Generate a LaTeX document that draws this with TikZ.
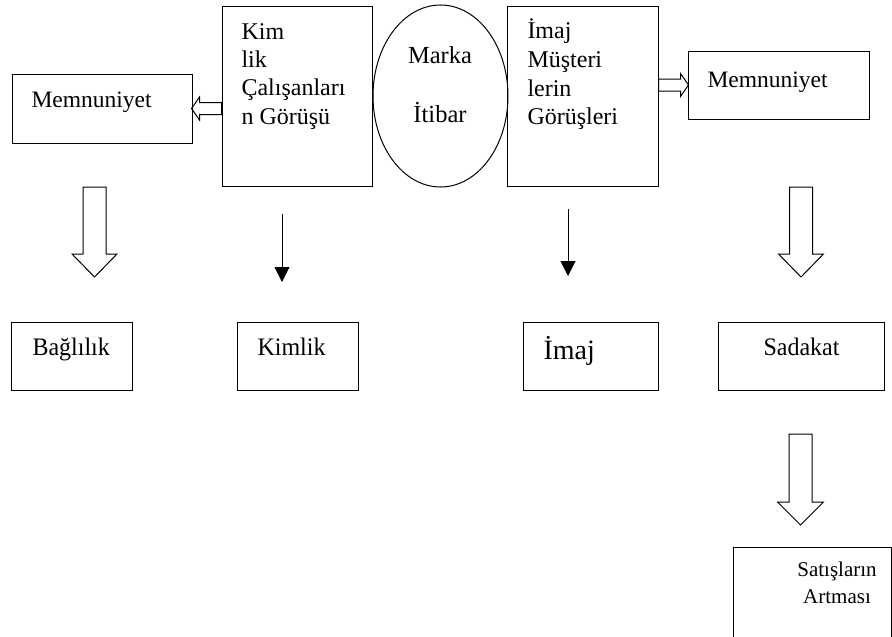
\documentclass[tikz,border=0pt]{standalone}
\usepackage{fontspec}
\setmainfont{Liberation Serif}
\usetikzlibrary{arrows.meta,shapes.geometric,calc}
\begin{document}
\begin{tikzpicture}[x=1pt,y=-1pt,
  line width=1pt,
  box/.style={draw, rectangle, inner sep=0pt},
  lbl/.style={anchor=base west, inner sep=0pt, font=\fontsize{24}{28}\selectfont},
  clbl/.style={anchor=base, inner sep=0pt, font=\fontsize{24}{28}\selectfont},
  smalllbl/.style={lbl, font=\fontsize{23.5}{27}\selectfont},
  thinarrow/.style={-{Triangle[length=15pt,width=15pt]}},
  % hollow block arrow pointing along +x: length/head length/shaft half width/head half width
  pics/blockarrow/.style args={#1/#2/#3/#4}{code={
    \draw (0,-#3) -- (#1-#2,-#3) -- (#1-#2,-#4) -- (#1,0) -- (#1-#2,#4) -- (#1-#2,#3) -- (0,#3) -- cycle;
  }}
]
\clip (0,0) rectangle (892,637);

% top row
\node[box, minimum width=180pt, minimum height=69pt] (mleft) at (102,108.5) {};
\node[box, minimum width=150pt, minimum height=180pt] (kimbox) at (297,96) {};
\node[draw, ellipse, inner sep=0pt, minimum width=135pt, minimum height=182pt] (marka) at (440.5,96) {};
\node[box, minimum width=151pt, minimum height=180pt] (imajbox) at (582.5,96) {};
\node[box, minimum width=181pt, minimum height=68pt] (mright) at (778.5,85) {};

% bottom row
\node[box, minimum width=121pt, minimum height=68pt] (bag) at (71.5,356) {};
\node[box, minimum width=121pt, minimum height=68pt] (kimlik) at (297.5,356) {};
\node[box, minimum width=135pt, minimum height=68pt] (imaj) at (590.5,356) {};
\node[box, minimum width=166pt, minimum height=68pt] (sadakat) at (801,356) {};
\node[box, minimum width=158pt, minimum height=103pt] (satis) at (812,598.5) {};

% texts
\node[smalllbl] (tmleft) at (31,107) {Memnuniyet};
\node[lbl] (k1) at (241,39) {Kim};
\node[lbl] (k2) at (241,67) {lik};
\node[lbl] (k3) at (241,95.5) {Çalışanları};
\node[lbl] (k4) at (241,124) {n Görüşü};
\node[clbl, font=\fontsize{24.5}{28}\selectfont] (m1) at (440,63) {Marka};
\node[clbl, font=\fontsize{24.5}{28}\selectfont] (m2) at (440,122) {İtibar};
\node[lbl] (i1) at (527,38) {İmaj};
\node[lbl] (i2) at (527,67) {Müşteri};
\node[lbl] (i3) at (527,96) {lerin};
\node[lbl] (i4) at (527,124.5) {Görüşleri};
\node[smalllbl] (tmright) at (707,87) {Memnuniyet};

\node[lbl, yscale=1.05] (tbag) at (32,355) {Bağlılık};
\node[lbl, yscale=1.05] (tkimlik) at (257,355) {Kimlik};
\node[lbl, font=\fontsize{28}{30}\selectfont] (timaj) at (543,359) {İmaj};
\node[lbl, yscale=1.05] (tsadakat) at (763,355) {Sadakat};
\node[clbl, font=\fontsize{21}{26}\selectfont] (ts1) at (837,576) {Satışların};
\node[clbl, font=\fontsize{21}{26}\selectfont] (ts2) at (837,603) {Artması};

% hollow arrows between the top boxes
\pic[rotate=180] at (kimbox.west |- mleft.east) {blockarrow={30/8/6/11.5}};
\pic at (imajbox.east |- mright.west) {blockarrow={30/8/6/11.5}};

% hollow arrows pointing down
\pic[rotate=-90] at (94.5,187) {blockarrow={90/23/11.5/22.5}};
\pic[rotate=-90] at (801,187) {blockarrow={90/23/11.5/22.5}};
\pic[rotate=-90] at (800.5,434) {blockarrow={91/23/11.5/23}};

% thin arrows
\coordinate (ka) at (282,214);
\coordinate (kb) at (282,282);
\coordinate (ia) at (568,209);
\coordinate (ib) at (568,276);
\draw[thinarrow] (ka) -- (kb);
\draw[thinarrow] (ia) -- (ib);
\end{tikzpicture}
\end{document}
